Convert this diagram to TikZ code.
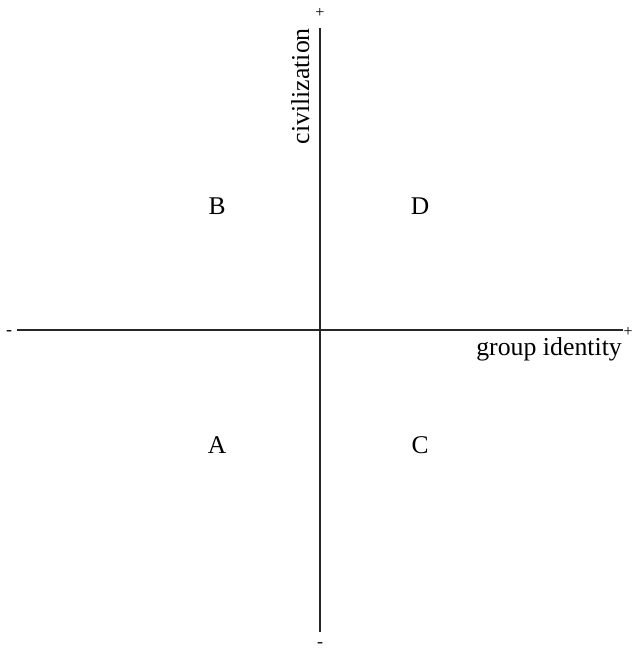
\documentclass[tikz,border=0pt]{standalone}
\usepackage{fontspec}
\setmainfont{Liberation Serif}
\tikzset{
  axis/.style={line width=2.7pt, black!85},
  sign/.style={font=\fontsize{16}{16}\selectfont, inner sep=0pt},
  minus/.style={font=\fontsize{18}{18}\selectfont, inner sep=0pt},
  quad/.style={font=\fontsize{25.5}{25.5}\selectfont, inner sep=0pt},
  axlabel/.style={font=\fontsize{25.8}{25.8}\selectfont, inner sep=0pt},
}
\begin{document}
\begin{tikzpicture}[x=1pt,y=-1pt]
\useasboundingbox (0,0) rectangle (634,652);
\coordinate (L) at (17,330);
\coordinate (R) at (623,330);
\coordinate (T) at (320,28);
\coordinate (Bt) at (320,632);
\draw[axis] (L) -- (R);
\draw[axis] (T) -- (Bt);
\node[minus] (lm) at (9,333) {-};
\node[sign] (rp) at (628,332) {+};
\node[sign] (tp) at (320,13) {+};
\node[minus] (bm) at (320,645.5) {-};
\node[axlabel, rotate=90, anchor=base east] (civ) at (309,28) {civilization};
\node[axlabel, anchor=base east] (gid) at (622,355) {group identity};
\node[quad] (A) at (217,445) {A};
\node[quad] (B) at (217,206) {B};
\node[quad] (C) at (420,445) {C};
\node[quad] (D) at (420,206) {D};
\end{tikzpicture}
\end{document}
